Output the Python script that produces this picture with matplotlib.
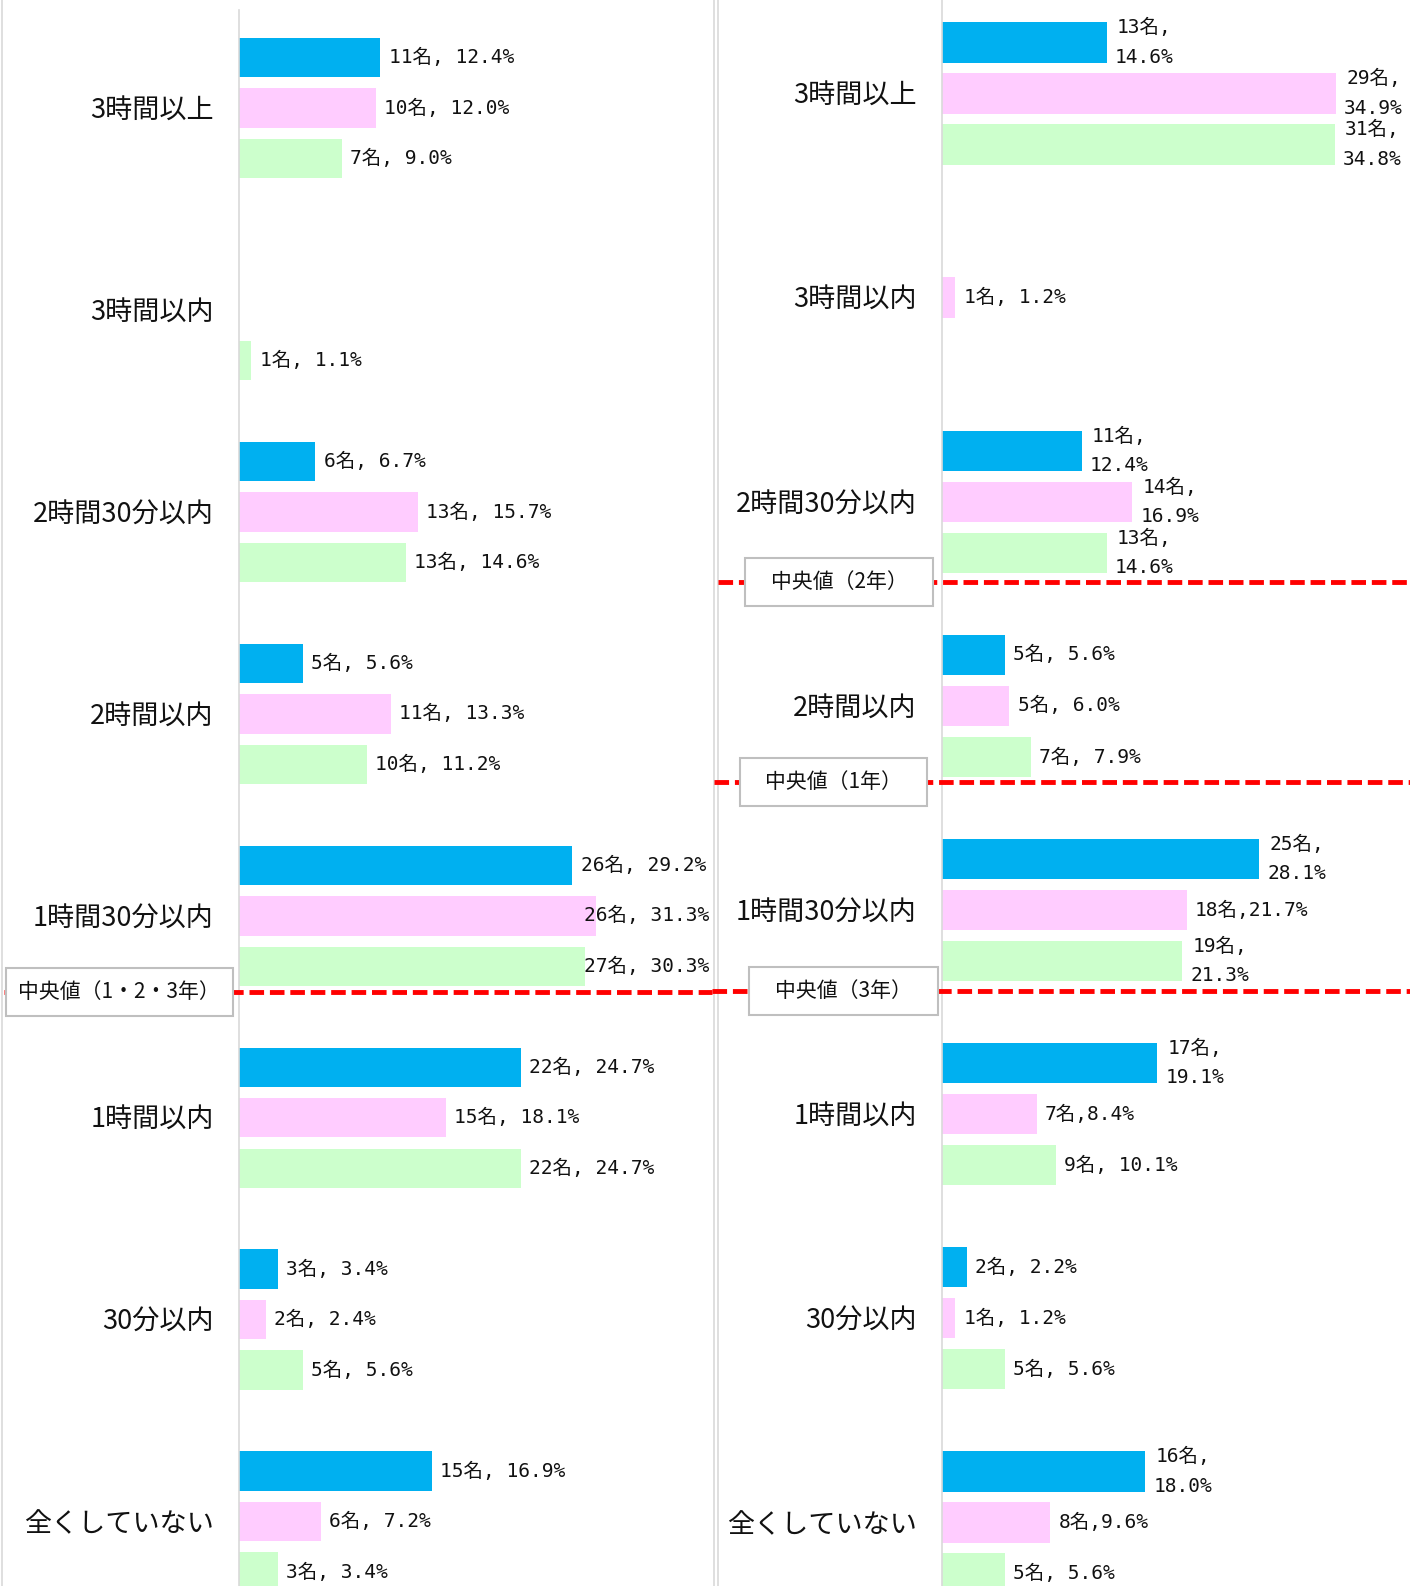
import matplotlib
matplotlib.use('Agg')
import matplotlib.pyplot as plt
from matplotlib.patches import Rectangle
from matplotlib.lines import Line2D

plt.rcParams['font.family'] = ['Noto Sans CJK JP', 'DejaVu Sans']
VALUE_FONT = ['DejaVu Sans Mono', 'Noto Sans CJK JP']

# ---------------- data ----------------
categories = ["3時間以上", "3時間以内", "2時間30分以内", "2時間以内",
              "1時間30分以内", "1時間以内", "30分以内", "全くしていない"]

left_blue_n = [11, None, 6, 5, 26, 22, 3, 15]
left_blue_pct = [12.4, 0, 6.7, 5.6, 29.2, 24.7, 3.4, 16.9]
left_pink_n = [10, None, 13, 11, 26, 15, 2, 6]
left_pink_pct = [12.0, 0, 15.7, 13.3, 31.3, 18.1, 2.4, 7.2]
left_green_n = [7, 1, 13, 10, 27, 22, 5, 3]
left_green_pct = [9.0, 1.1, 14.6, 11.2, 30.3, 24.7, 5.6, 3.4]

right_blue_n = [13, None, 11, 5, 25, 17, 2, 16]
right_blue_pct = [14.6, 0, 12.4, 5.6, 28.1, 19.1, 2.2, 18.0]
right_pink_n = [29, 1, 14, 5, 18, 7, 1, 8]
right_pink_pct = [34.9, 1.2, 16.9, 6.0, 21.7, 8.4, 1.2, 9.6]
right_green_n = [31, None, 13, 7, 19, 9, 5, 5]
right_green_pct = [34.8, 0, 14.6, 7.9, 21.3, 10.1, 5.6, 5.6]

# separators between count and percentage in labels
left_sep = [", "] * 8
right_blue_sep = [",\n", ", ", ",\n", ", ", ",\n", ",\n", ", ", ",\n"]
right_pink_sep = [",\n", ", ", ",\n", ", ", ",", ",", ", ", ","]
right_green_sep = [",\n", ", ", ",\n", ", ", ",\n", ", ", ", ", ", "]

left_median_labels = ["中央値（1・2・3年）"]
left_median_pos = [4.376]
right_median_labels = ["中央値（2年）", "中央値（1年）", "中央値（3年）"]
right_median_pos = [2.391, 3.373, 4.395]

colors = ["#00B0F0", "#FFCCFF", "#CCFFCC"]
offsets = [-0.25, 0.0, 0.25]

W, H = 1410, 1586
fig = plt.figure(figsize=(W / 100, H / 100), dpi=100)
fig.patch.set_facecolor("white")

axL = fig.add_axes([238.7 / W, 0, (713 - 238.7) / W, (H - 10) / H])
axR = fig.add_axes([941.7 / W, 0, (W - 941.7) / W, 1.0])
axL.set_xlim(0, 41.5)
axL.set_ylim(7.319, -0.486)
axR.set_xlim(0, 41.48)
axR.set_ylim(7.312, -0.4586)

panels = [
    (axL, [(left_blue_n, left_blue_pct, left_sep),
           (left_pink_n, left_pink_pct, left_sep),
           (left_green_n, left_green_pct, left_sep)], 0.195),
    (axR, [(right_blue_n, right_blue_pct, right_blue_sep),
           (right_pink_n, right_pink_pct, right_pink_sep),
           (right_green_n, right_green_pct, right_green_sep)], 0.198),
]

all_labels = []
for ax, series, bh in panels:
    for spine in ["top", "right", "bottom"]:
        ax.spines[spine].set_visible(False)
    ax.spines["left"].set_color("#D9D9D9")
    ax.spines["left"].set_linewidth(1.2)
    ax.set_xticks([])
    ax.set_yticks(range(len(categories)))
    ax.set_yticklabels(categories, fontsize=19.5, color="#111111")
    ax.tick_params(axis="y", length=0, pad=18)
    for (ns, pcts, seps), col, off in zip(series, colors, offsets):
        ys = [i + off for i in range(len(categories))]
        vals = [p if n is not None else 0 for n, p in zip(ns, pcts)]
        ax.barh(ys, vals, height=bh, color=col, zorder=2)
        for n, p, s, y in zip(ns, pcts, seps, ys):
            if n is None:
                continue
            t = ax.annotate(f"{n}名{s}{p:.1f}%", xy=(p, y), xytext=(6, 0),
                            textcoords="offset points", ha="left", va="center",
                            multialignment="center", fontsize=14,
                            family=VALUE_FONT, linespacing=1.7,
                            color="#111111", zorder=5)
            all_labels.append((ax, t, y))

fig.canvas.draw()
renderer = fig.canvas.get_renderer()
for ax, t, y in all_labels:
    bb = t.get_window_extent(renderer)
    axbb = ax.get_window_extent(renderer)
    if bb.x1 > axbb.x1 - 4:
        t.xy = (ax.get_xlim()[1], y)
        t.xyann = (-3, 0)
        t.set_ha("right")

# panel border lines
for x in [2, 714, 718]:
    fig.add_artist(Line2D([x / W, x / W], [0, 1], transform=fig.transFigure,
                          color="#D9D9D9", lw=1.2))


def median_marker(ax, label, pos, x_line0, x_line1, bx0, bx1):
    yd = ax.transData.transform((0, pos))[1]
    fy = yd / H
    fig.add_artist(Line2D([x_line0 / W, x_line1 / W], [fy, fy],
                          transform=fig.transFigure, color="#FF0000", lw=3.5,
                          dashes=(3, 1.2), zorder=6))
    bh = 48
    fig.add_artist(Rectangle((bx0 / W, (yd - bh / 2) / H), (bx1 - bx0) / W, bh / H,
                             transform=fig.transFigure, facecolor="white",
                             edgecolor="#BFBFBF", lw=1.5, zorder=7))
    fig.text((bx0 + bx1) / 2 / W, fy, label, ha="center", va="center",
             fontsize=15, color="#111111", zorder=8)


median_marker(axL, left_median_labels[0], left_median_pos[0], 4, 712, 5.5, 233)
right_lines = [(718, 745, 933), (714, 740, 927), (712, 749, 937.5)]
for lab, pos, (xl0, bx0, bx1) in zip(right_median_labels, right_median_pos, right_lines):
    median_marker(axR, lab, pos, xl0, W, bx0, bx1)

fig.savefig("out.png", dpi=100, facecolor="white")
